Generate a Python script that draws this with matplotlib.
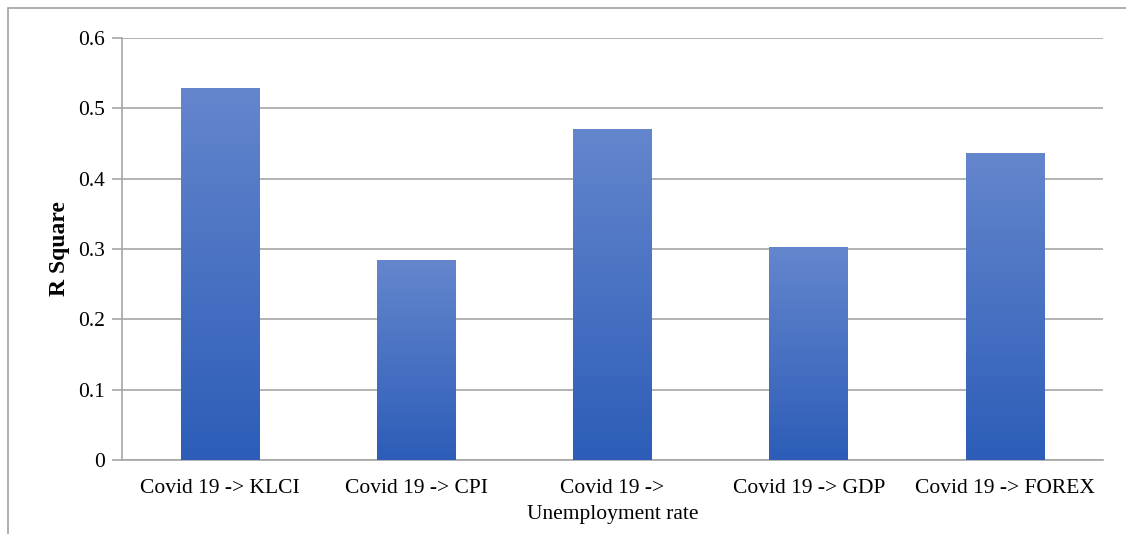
import matplotlib.pyplot as plt
import numpy as np
from matplotlib.colors import LinearSegmentedColormap
from matplotlib.patches import Rectangle

categories = ["Covid 19 -> KLCI", "Covid 19 -> CPI", "Covid 19 ->\nUnemployment rate",
              "Covid 19 -> GDP", "Covid 19 -> FOREX"]
r_square = [0.529, 0.284, 0.471, 0.303, 0.436]

plt.rcParams['font.family'] = ['Liberation Serif', 'DejaVu Serif']

fig = plt.figure(figsize=(11.26, 5.34), dpi=100)
ax = fig.add_axes([122 / 1126, (534 - 460) / 534, 981 / 1126, 422 / 534])

# frame around the chart area (cropped at right and bottom)
fig.patches.append(Rectangle((8 / 1126, -0.1), 1.2, (534 - 8) / 534 + 0.1,
                             transform=fig.transFigure, fill=False,
                             edgecolor='#A0A0A0', linewidth=1.2))

x = np.arange(len(categories))
bars = ax.bar(x, r_square, width=0.4, color='none', zorder=3)

# vertical gradient inside each bar
cmap = LinearSegmentedColormap.from_list('grad', ['#2D5DB8', '#6486CD'])
grad = np.linspace(0, 1, 256).reshape(-1, 1)
for b in bars:
    x0, w, h = b.get_x(), b.get_width(), b.get_height()
    im = ax.imshow(grad, cmap=cmap, origin='lower', aspect='auto',
                   extent=[x0, x0 + w, 0, h], zorder=3)
    im.set_clip_path(b)

ax.set_xlim(-0.5, len(categories) - 0.5)
ax.set_ylim(0, 0.6)
ax.set_yticks(np.arange(0, 0.61, 0.1))
ax.set_yticklabels(["0", "0.1", "0.2", "0.3", "0.4", "0.5", "0.6"])
ax.set_xticks(x)
ax.set_xticklabels(categories, fontsize=15.5, linespacing=1.45)
ax.tick_params(axis='y', labelsize=15.5, length=7, color='#A6A6A6', width=1.2, pad=5)
ax.tick_params(axis='x', length=0, pad=14)
ax.set_ylabel("R Square", fontsize=17, fontweight='bold')
ax.yaxis.set_label_coords(-0.053, 0.5)

ax.grid(axis='y', color='#A6A6A6', linewidth=1.2, zorder=0)
for s in ['top', 'right']:
    ax.spines[s].set_visible(False)
for s in ['left', 'bottom']:
    ax.spines[s].set_color('#A6A6A6')
    ax.spines[s].set_linewidth(1.2)

fig.savefig('out.png', dpi=100)
